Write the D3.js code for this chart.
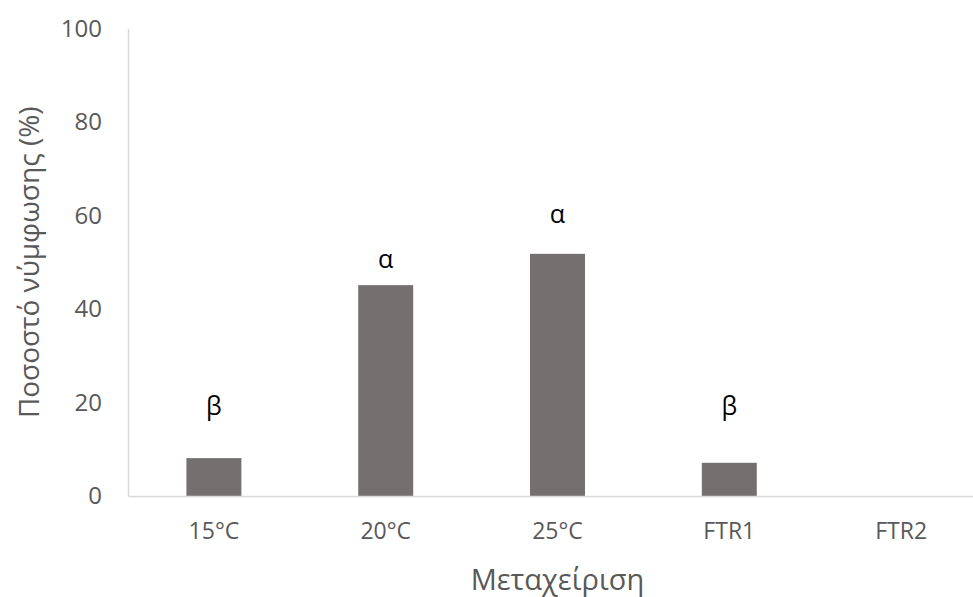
<!DOCTYPE html>
<html>
<head>
<meta charset="utf-8">
<script src="https://cdn.jsdelivr.net/npm/d3@7"></script>
<style>
  html, body { margin: 0; padding: 0; background: #fff; }
  svg { display: block; }
  text { font-family: "Open Sans", "Noto Sans", sans-serif; }
</style>
</head>
<body>
<svg id="chart" width="973" height="597"></svg>
<script>
// Pupation rate per treatment
const categories = ["15°C", "20°C", "25°C", "FTR1", "FTR2"];
const values = [8.1, 45.1, 51.8, 7.1, 0];
// Significance letters and the level (in %) at which each is written
const letters = ["β", "α", "α", "β", ""];
const letterLevels = [19.5, 51, 60.5, 19.5, 0];
const yTicks = [0, 20, 40, 60, 80, 100];

const xTitle = "Μεταχείριση";
const yTitle = "Ποσοστό νύμφωσης (%)";

const plot = { left: 128, right: 987, top: 28.5, bottom: 496 };

const svg = d3.select("#chart");

const x = d3.scaleBand().domain(categories).range([plot.left, plot.right]).padding(0);
const y = d3.scaleLinear().domain([0, 100]).range([plot.bottom, plot.top]);
const barW = x.bandwidth() * 0.32;

const axisColor = "#d9d9d9";
const textColor = "#595959";

// y axis (line only, labels on the left)
const yAxis = svg.append("g")
  .attr("transform", `translate(${plot.left},0)`)
  .call(d3.axisLeft(y).tickValues(yTicks).tickSize(0).tickPadding(26));
yAxis.select(".domain").attr("stroke", axisColor).attr("stroke-width", 1.5);
yAxis.selectAll("text")
  .attr("fill", textColor)
  .style("font-size", "24px")
  .attr("font-family", null);

// bars
svg.append("g").selectAll("rect")
  .data(categories.map((c, i) => ({ c, v: values[i] })))
  .join("rect")
  .attr("x", d => x(d.c) + x.bandwidth() / 2 - barW / 2)
  .attr("width", barW)
  .attr("y", d => y(d.v))
  .attr("height", d => y(0) - y(d.v))
  .attr("fill", "#747070");

// x axis
const xAxis = svg.append("g")
  .attr("transform", `translate(0,${plot.bottom})`)
  .call(d3.axisBottom(x).tickSize(0).tickPadding(27));
xAxis.select(".domain").attr("stroke", axisColor).attr("stroke-width", 1.5);
xAxis.selectAll("text")
  .attr("fill", textColor)
  .style("font-size", "23px")
  .attr("font-family", null);

// significance letters
svg.append("g").selectAll("text")
  .data(categories.map((c, i) => ({ c, t: letters[i], lv: letterLevels[i] })).filter(d => d.t))
  .join("text")
  .attr("x", d => x(d.c) + x.bandwidth() / 2)
  .attr("y", d => y(d.lv))
  .attr("text-anchor", "middle")
  .attr("dominant-baseline", "central")
  .attr("fill", "#000")
  .style("font-size", "25px")
  .text(d => d.t);

// axis titles
svg.append("text")
  .attr("x", (plot.left + plot.right) / 2)
  .attr("y", 590)
  .attr("text-anchor", "middle")
  .attr("fill", textColor)
  .style("font-size", "29px")
  .text(xTitle);

svg.append("text")
  .attr("transform", `translate(28,${(plot.top + plot.bottom) / 2}) rotate(-90)`)
  .attr("text-anchor", "middle")
  .attr("dominant-baseline", "central")
  .attr("fill", textColor)
  .style("font-size", "28px")
  .text(yTitle);
</script>
</body>
</html>
